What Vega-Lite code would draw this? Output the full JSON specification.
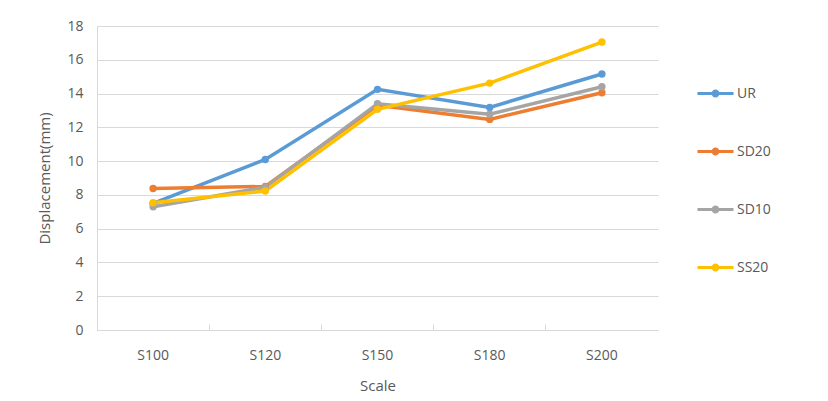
{
  "$schema": "https://vega.github.io/schema/vega-lite/v6.json",
  "width": 561,
  "height": 304,
  "autosize": {"type": "none"},
  "padding": {"left": 97, "top": 26, "right": 170, "bottom": 71},
  "background": "white",
  "config": {
    "font": "Open Sans",
    "view": {"stroke": null}
  },
  "data": {
    "values": [
      {"series": "UR", "scale": "S100", "value": 7.5},
      {"series": "UR", "scale": "S120", "value": 10.1},
      {"series": "UR", "scale": "S150", "value": 14.25},
      {"series": "UR", "scale": "S180", "value": 13.18},
      {"series": "UR", "scale": "S200", "value": 15.16},
      {"series": "SD20", "scale": "S100", "value": 8.38},
      {"series": "SD20", "scale": "S120", "value": 8.5},
      {"series": "SD20", "scale": "S150", "value": 13.3},
      {"series": "SD20", "scale": "S180", "value": 12.47},
      {"series": "SD20", "scale": "S200", "value": 14.05},
      {"series": "SD10", "scale": "S100", "value": 7.3},
      {"series": "SD10", "scale": "S120", "value": 8.45},
      {"series": "SD10", "scale": "S150", "value": 13.4},
      {"series": "SD10", "scale": "S180", "value": 12.78},
      {"series": "SD10", "scale": "S200", "value": 14.4},
      {"series": "SS20", "scale": "S100", "value": 7.54},
      {"series": "SS20", "scale": "S120", "value": 8.23},
      {"series": "SS20", "scale": "S150", "value": 13.07},
      {"series": "SS20", "scale": "S180", "value": 14.62},
      {"series": "SS20", "scale": "S200", "value": 17.05}
    ]
  },
  "mark": {"type": "line", "strokeWidth": 3.5, "point": {"filled": true, "size": 55}},
  "encoding": {
    "x": {
      "field": "scale",
      "type": "nominal",
      "sort": ["S100", "S120", "S150", "S180", "S200"],
      "scale": {"type": "band", "paddingInner": 0, "paddingOuter": 0},
      "axis": {
        "title": "Scale",
        "titleFontSize": 15,
        "titleFontWeight": "normal",
        "titleColor": "#595959",
        "titlePadding": 16,
        "labelAngle": 0,
        "labelFontSize": 14,
        "labelColor": "#595959",
        "labelPadding": 24,
        "bandPosition": 0,
        "tickSize": -6,
        "tickColor": "#D9D9D9",
        "domainColor": "#D9D9D9",
        "grid": false
      }
    },
    "y": {
      "field": "value",
      "type": "quantitative",
      "scale": {"domain": [0, 18]},
      "axis": {
        "title": "Displacement(mm)",
        "titleFontSize": 15,
        "titleFontWeight": "normal",
        "titleColor": "#595959",
        "titlePadding": 14,
        "values": [0, 2, 4, 6, 8, 10, 12, 14, 16, 18],
        "labelFontSize": 14,
        "labelColor": "#595959",
        "labelPadding": 14,
        "ticks": false,
        "domainColor": "#D9D9D9",
        "gridColor": "#D9D9D9"
      }
    },
    "color": {
      "field": "series",
      "type": "nominal",
      "sort": ["UR", "SD20", "SD10", "SS20"],
      "scale": {"domain": ["UR", "SD20", "SD10", "SS20"], "range": ["#5B9BD5", "#ED7D31", "#A5A5A5", "#FFC000"]},
      "legend": {
        "title": null,
        "orient": "none",
        "legendX": 600,
        "legendY": 49,
        "symbolType": "M-1,-0.09H1V0.09H-1Z M0.22,0 A0.22,0.22 0 1,1 -0.22,0 A0.22,0.22 0 1,1 0.22,0Z",
        "symbolSize": 1300,
        "symbolStrokeWidth": 0,
        "symbolOpacity": 1,
        "labelFontSize": 14,
        "labelColor": "#595959",
        "labelOffset": 3,
        "rowPadding": 32
      }
    }
  }
}
